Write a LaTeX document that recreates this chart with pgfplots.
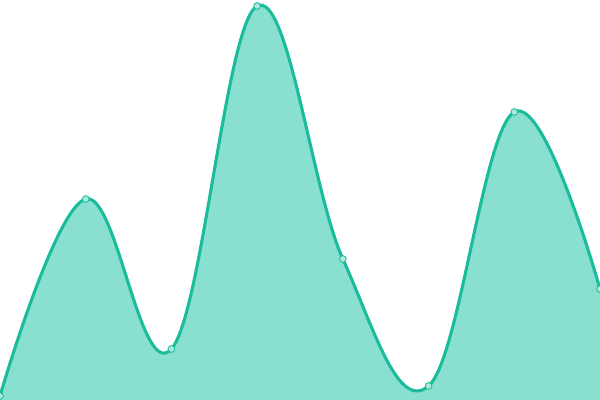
\documentclass[border=0pt]{standalone}
\usepackage{pgfplots}
\pgfplotsset{compat=1.18}
\definecolor{teal1}{HTML}{1ABC9C}
\definecolor{tealfill}{HTML}{8AE0D0}
\pgfplotstableread{
x y
0 4
1 201
2 51
3 394
4 141
5 14
6 288
7 111
}\datatable
\begin{document}
\begin{tikzpicture}
\useasboundingbox (0,0) rectangle (15cm,10cm);
\begin{axis}[
    at={(0,0)}, anchor=origin,
    width=15cm, height=10cm,
    scale only axis,
    hide axis,
    xmin=0, xmax=7,
    ymin=0, ymax=400,
    clip=true,
]
\addplot[draw=none, fill=tealfill, smooth, tension=0.65]
    table {\datatable} \closedcycle;
\addplot[
    color=teal1,
    line width=2.2pt,
    smooth, tension=0.65,
    mark=*,
    mark size=2.4pt,
    mark options={fill=tealfill!70!white, draw=teal1, line width=0.6pt},
    ]
    table {\datatable};
\end{axis}
\end{tikzpicture}
\end{document}
